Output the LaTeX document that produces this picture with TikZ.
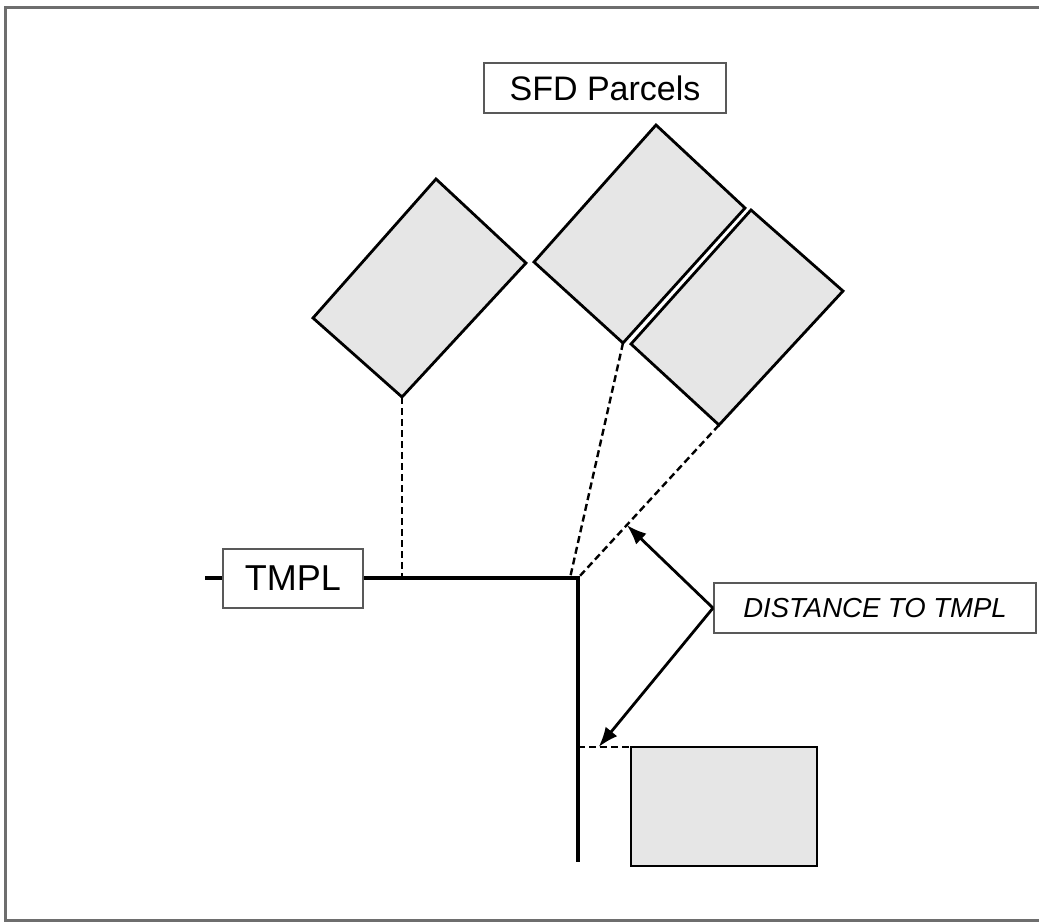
\documentclass[tikz,border=0pt]{standalone}
\usepackage{fontspec}
\setmainfont{Liberation Sans}
\usetikzlibrary{arrows.meta,calc}
\definecolor{parcelfill}{RGB}{230,230,230}
\definecolor{framegray}{RGB}{110,110,110}
\begin{document}
\begin{tikzpicture}[x=1pt,y=-1pt,
  parcel/.style={draw=black,fill=parcelfill,line width=2.8pt,line join=miter},
  label box/.style={draw=black!65,line width=2pt,fill=white,inner sep=0pt},
  road/.style={line width=4pt},
  proj/.style={line width=2.4pt,dash pattern=on 7pt off 4pt},
  dimarrow/.style={line width=2.8pt,-{Latex[length=20pt,width=15pt]}}]
\useasboundingbox (0,0) rectangle (1039,922);
\draw[framegray,line width=3pt] (5,7) rectangle (1050,920);
% SFD label
\node[label box,anchor=north west,minimum width=242pt,minimum height=50pt,font=\fontsize{34}{34}\selectfont] (sfd) at (483,62) {SFD Parcels};
% parcels
\coordinate (a1) at (436,179); \coordinate (a2) at (526,263); \coordinate (a3) at (402,397); \coordinate (a4) at (313,318);
\coordinate (b1) at (656,125); \coordinate (b2) at (745,208); \coordinate (b3) at (623,343); \coordinate (b4) at (534,262);
\coordinate (c1) at (751,210); \coordinate (c2) at (843,291); \coordinate (c3) at (719,425); \coordinate (c4) at (631,344);
\draw[parcel] (a1) -- (a2) -- (a3) -- (a4) -- cycle;
\draw[parcel] (b1) -- (b2) -- (b3) -- (b4) -- cycle;
\draw[parcel] (c1) -- (c2) -- (c3) -- (c4) -- cycle;
\draw[parcel] (631,747) rectangle (817,866);
\coordinate (d1) at (631,747);
% road
\coordinate (stub) at (205,578);
\node[label box,anchor=west,minimum width=140pt,minimum height=59pt,font=\fontsize{36}{36}\selectfont] (tmpl) at (222,578) {TMPL};
\coordinate (p1) at (402,578);
\coordinate (corner) at (578,578);
\coordinate (pm) at (570,578);
\coordinate (bottom) at (578,862);
\coordinate (p4) at (578,747);
\draw[road] (stub) -- (tmpl.west);
\draw[road] (tmpl.east) -- (corner) -- (bottom);
% projections
\draw[proj] (a3) -- (p1);
\draw[proj] (b3) -- (pm);
\draw[proj] (c3) -- (corner);
\draw[proj] (p4) -- (d1);
% distance label
\node[label box,anchor=north west,minimum width=322pt,minimum height=50pt,font=\fontsize{27.5}{27.5}\selectfont\itshape] (dist) at (713,582) {DISTANCE TO TMPL\hspace{10pt}};
\coordinate (t1) at ($(corner)!0.346!(c3)$);
\coordinate (t2) at ($(p4)!0.39!(d1)$);
\draw[dimarrow] (dist.west) -- (t1);
\draw[dimarrow] (dist.west) -- (t2);
\end{tikzpicture}
\end{document}
